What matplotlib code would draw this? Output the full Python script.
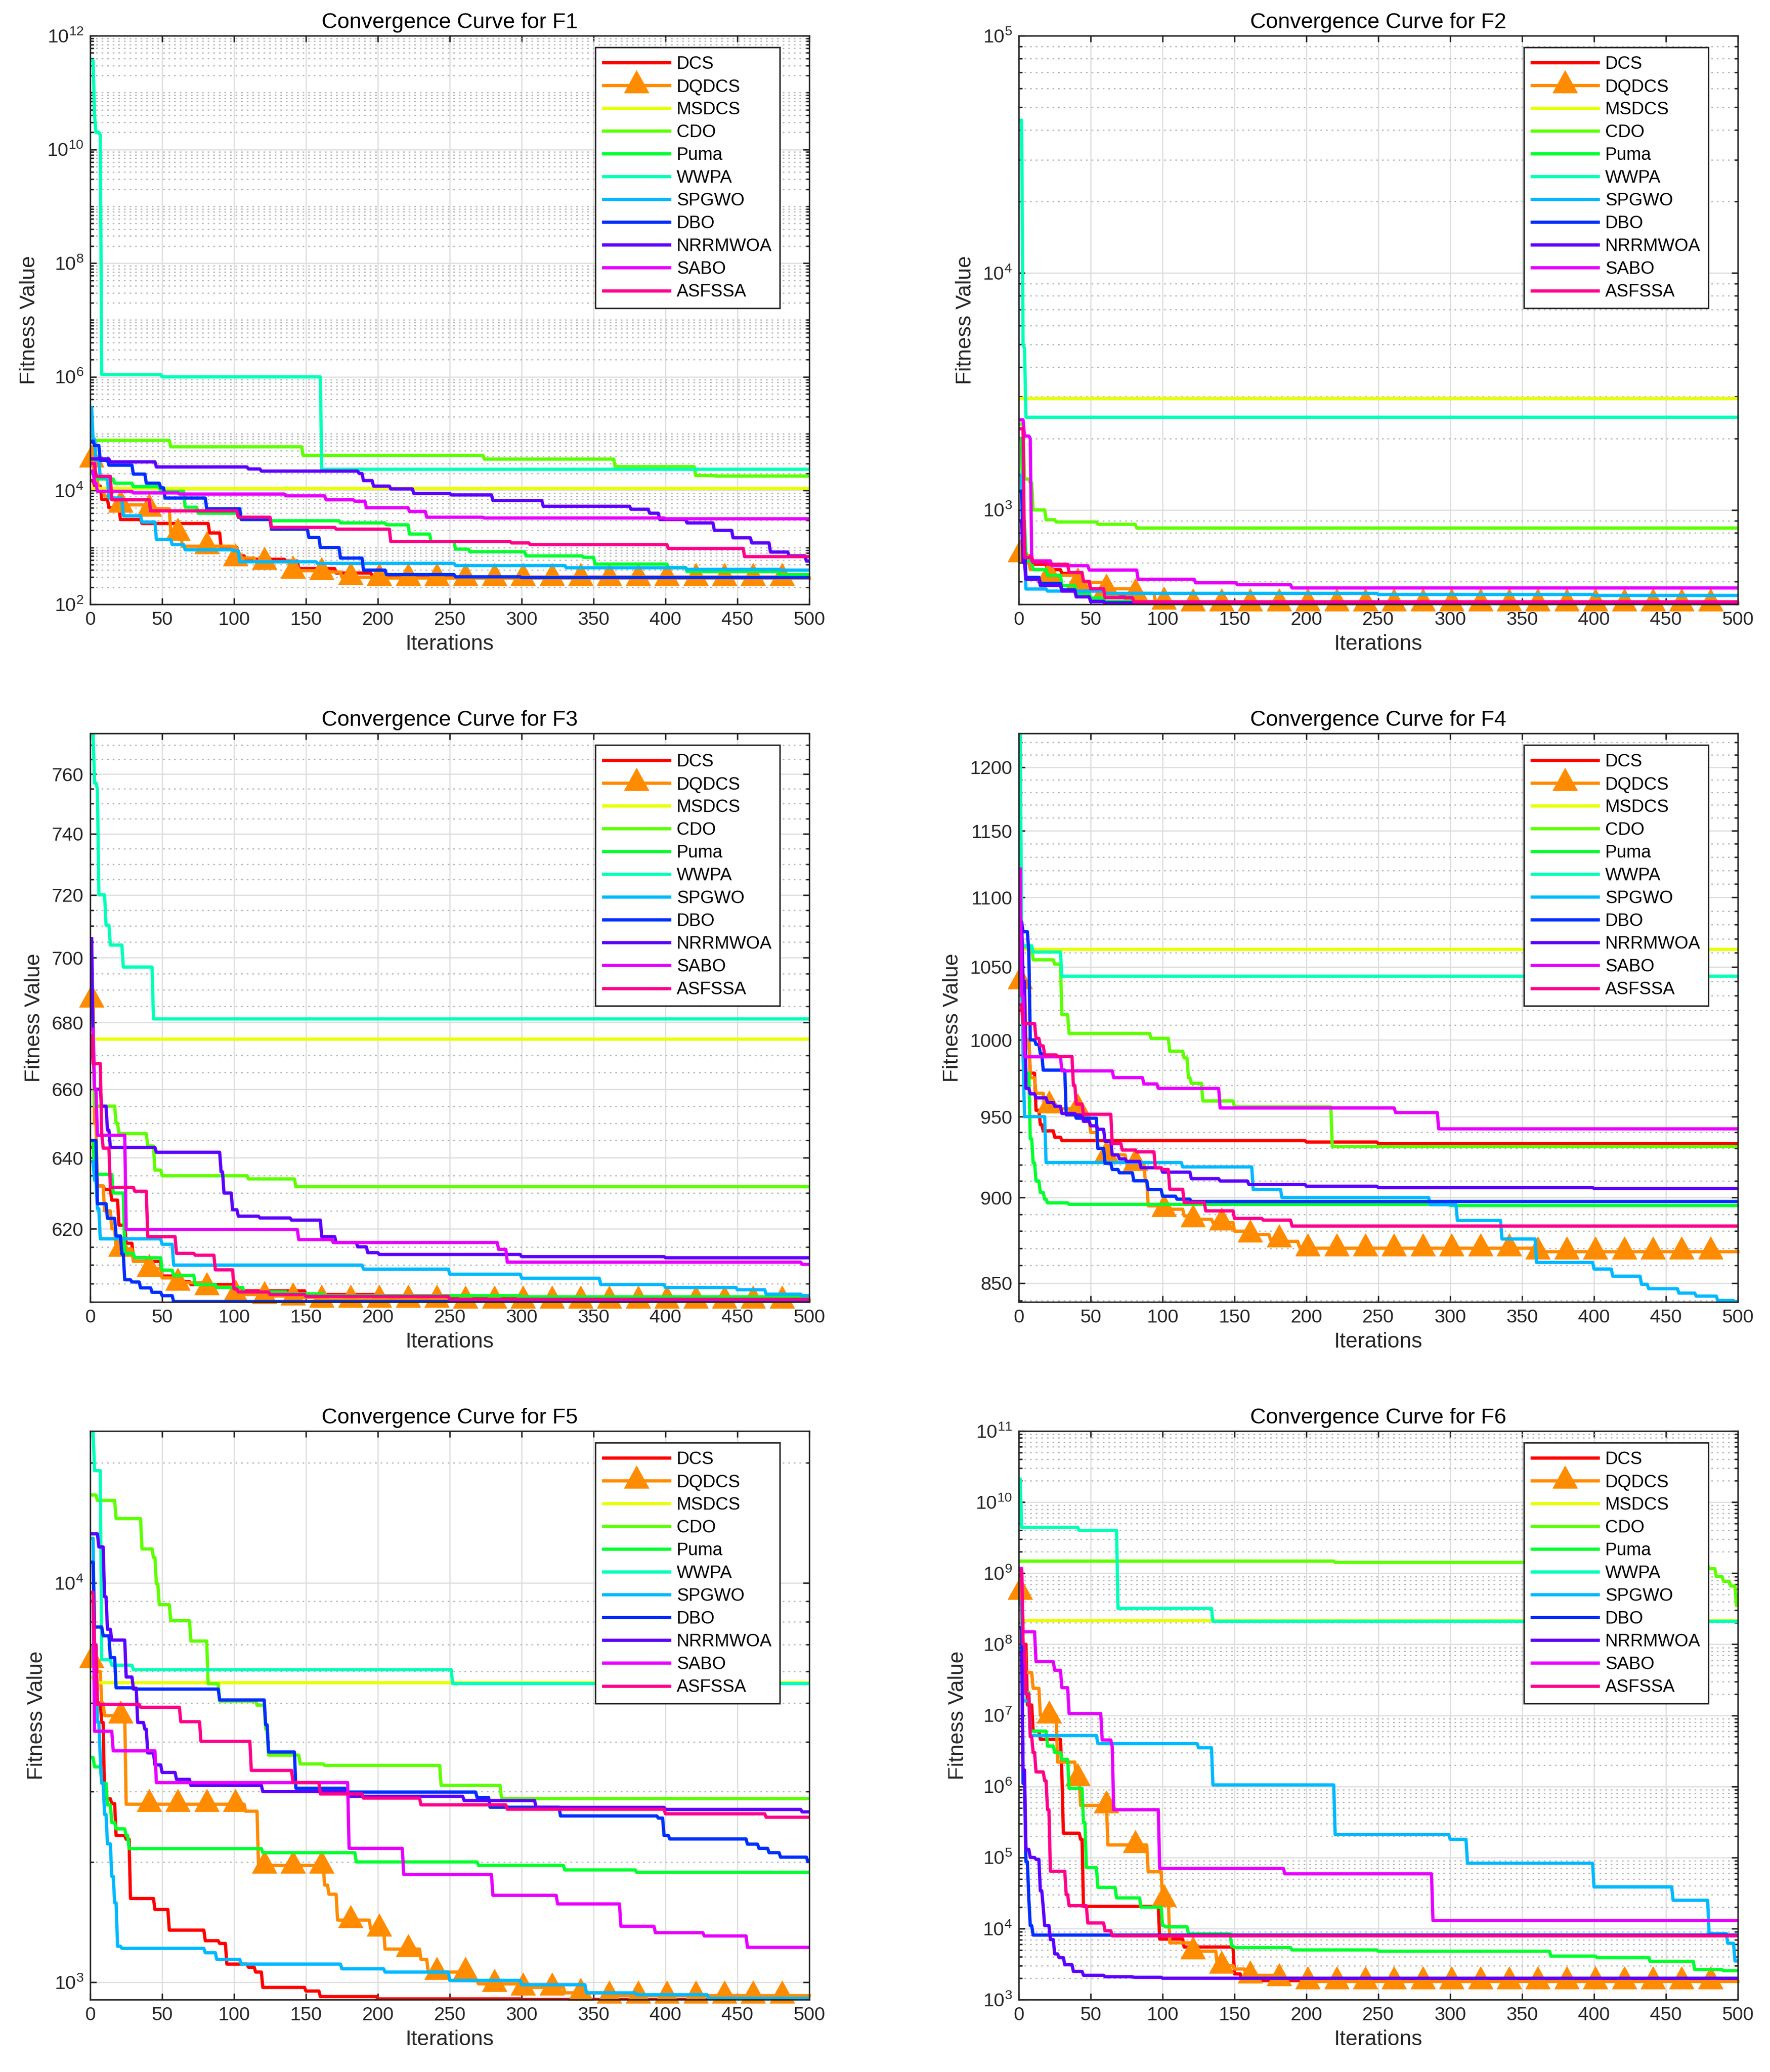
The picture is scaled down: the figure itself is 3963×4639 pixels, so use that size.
import numpy as np
import matplotlib
matplotlib.use("Agg")
import matplotlib.pyplot as plt
from matplotlib.ticker import FixedLocator, MultipleLocator, NullLocator, NullFormatter, FuncFormatter, LogLocator, LogFormatterSciNotation
from matplotlib.path import Path
import colorsys

plt.rcParams['font.family'] = ['Liberation Sans', 'DejaVu Sans']
plt.rcParams['mathtext.fontset'] = 'custom'
plt.rcParams['mathtext.rm'] = 'Liberation Sans'
plt.rcParams['mathtext.it'] = 'Liberation Sans'
plt.rcParams['mathtext.bf'] = 'Liberation Sans'

ALGORITHMS = ["DCS", "DQDCS", "MSDCS", "CDO", "Puma", "WWPA", "SPGWO", "DBO", "NRRMWOA", "SABO", "ASFSSA"]
ITERATIONS = np.arange(1, 501)
X_TICKS = list(range(0, 501, 50))

# ---------------- F1 (iteration, best fitness) breakpoints ----------------
F1_DCS = [(1, 1.5e4), (3, 1.2e4), (8, 7e3), (13, 5e3), (21, 3.1e3), (36, 2.64e3), (83, 1.8e3), (91, 1.0e3),
          (103, 710), (108, 620), (136, 575), (145, 425), (171, 355), (196, 323), (250, 300)]
F1_DQDCS = [(1, 3.5e4), (3, 1.5e4), (6, 1e4), (10, 8e3), (15, 7.4e3), (18, 5.6e3), (39, 4.8e3), (56, 1.8e3),
            (64, 1.05e3), (100, 650), (115, 560), (139, 390), (160, 370), (175, 300), (200, 290)]
F1_MSDCS = [(1, 1.1e4)]
F1_CDO = [(1, 7.65e4), (56, 5.89e4), (148, 4.17e4), (274, 3.58e4), (365, 2.64e4), (421, 1.84e4), (435, 1.8e4)]
F1_Puma = [(1, 2e4), (5, 1.6e4), (17, 1.35e4), (30, 1.17e4), (49, 9.7e3), (66, 5.1e3), (75, 4.0e3), (103, 3.35e3),
           (126, 2.95e3), (174, 2.7e3), (206, 2.5e3), (222, 1.72e3), (237, 1.27e3), (254, 935), (264, 840),
           (303, 710), (343, 670), (351, 510), (402, 440), (415, 376), (479, 333)]
F1_WWPA = [(1, 3.7e11), (3, 4e10), (4, 2e10), (7, 1.8e10), (8, 1.1e6), (50, 1.0e6), (161, 2.37e4)]
F1_SPGWO = [(1, 2.9e5), (2, 8e4), (4, 3.4e4), (7, 1.7e4), (13, 7.4e3), (23, 3.6e3), (36, 2.8e3), (46, 1.39e3),
            (57, 1.12e3), (66, 910), (100, 870), (104, 560), (158, 525), (254, 480), (331, 440), (415, 412), (480, 400)]
F1_DBO = [(1, 7.4e4), (3, 6.2e4), (7, 3.4e4), (13, 2.8e4), (30, 1.95e4), (39, 1.35e4), (49, 1.12e4), (52, 7.4e3),
          (81, 4.8e3), (105, 3.1e3), (126, 2.1e3), (152, 1.5e3), (160, 1.0e3), (174, 650), (190, 400), (206, 333),
          (254, 304), (300, 295)]
F1_NRRMWOA = [(1, 3.6e4), (14, 3.2e4), (46, 2.6e4), (110, 2.4e4), (119, 2.2e4), (187, 2.0e4), (190, 1.5e4),
              (197, 1.2e4), (209, 1.07e4), (225, 8.9e3), (251, 8.4e3), (280, 6.7e3), (315, 5.3e3), (376, 4.7e3),
              (389, 4.0e3), (396, 3.1e3), (415, 2.7e3), (434, 2.0e3), (447, 1.48e3), (460, 1.2e3), (473, 830),
              (486, 710), (498, 575)]
F1_SABO = [(1, 2.2e4), (3, 1.35e4), (5, 9.7e3), (30, 9.1e3), (62, 8.7e3), (136, 8.1e3), (164, 6.9e3), (184, 6.5e3),
           (192, 5.0e3), (222, 4.3e3), (234, 3.4e3), (274, 3.3e3), (400, 3.2e3)]
F1_ASFSSA = [(1, 3e4), (4, 1.78e4), (15, 6.9e3), (42, 4.4e3), (103, 3.4e3), (126, 2.25e3), (171, 2.1e3),
             (209, 1.27e3), (293, 1.2e3), (306, 1.12e3), (402, 960), (455, 690)]

# ---------------- F2 ----------------
F2_DCS = [(1, 2.0e3), (3, 800), (5, 640), (10, 590), (20, 560), (30, 540), (40, 500), (50, 455), (60, 430),
          (75, 410), (100, 405)]
F2_DQDCS = [(1, 650), (3, 600), (8, 560), (21, 530), (41, 495), (61, 465), (81, 445), (95, 410), (110, 404)]
F2_MSDCS = [(1, 2.95e3)]
F2_CDO = [(1, 2.3e3), (4, 1.35e3), (8, 1.3e3), (10, 1.0e3), (19, 910), (26, 890), (55, 870), (82, 839)]
F2_Puma = [(1, 2.0e3), (3, 900), (5, 610), (10, 560), (20, 530), (30, 480), (40, 445), (50, 425), (60, 412), (80, 408)]
F2_WWPA = [(1, 4.4e4), (3, 5.0e3), (4, 4.8e3), (5, 2.46e3)]
F2_SPGWO = [(1, 1.4e3), (3, 650), (5, 464), (20, 455), (60, 445), (250, 440), (400, 436)]
F2_DBO = [(1, 1.2e3), (3, 700), (5, 520), (15, 490), (30, 460), (40, 430), (50, 412), (60, 406)]
F2_NRRMWOA = [(1, 900), (3, 600), (5, 510), (15, 480), (30, 455), (40, 430), (50, 410), (60, 404)]
F2_SABO = [(1, 2.4e3), (4, 2.05e3), (8, 2.0e3), (9, 610), (23, 582), (49, 558), (83, 510), (123, 493), (152, 484),
           (190, 469)]
F2_ASFSSA = [(1, 2.2e3), (4, 630), (10, 600), (20, 590), (35, 545), (45, 500), (50, 465), (60, 427), (80, 410)]

# ---------------- F3 ----------------
F3_DCS = [(1, 643), (5, 632), (10, 631), (15, 628), (20, 621), (25, 616), (30, 612), (40, 611), (50, 607), (60, 605.5),
          (70, 604.7), (100, 603), (150, 602), (200, 601), (400, 600.2)]
F3_DQDCS = [(1, 687), (3, 650), (5, 632), (10, 625), (15, 620), (18, 614.4), (30, 611), (41, 609), (50, 606.5),
            (61, 605.2), (81, 604), (101, 602), (121, 601.6), (141, 601.2), (161, 600.6), (250, 600.4)]
F3_MSDCS = [(1, 675)]
F3_CDO = [(1, 680), (3, 655), (18, 650), (20, 647), (40, 643.4), (45, 636.5), (50, 634.9), (110, 634.0), (143, 631.8)]
F3_Puma = [(1, 645), (3, 635.3), (16, 630), (24, 613.2), (31, 612), (50, 608.6), (58, 607.2), (73, 604.7),
           (88, 603.9), (107, 602.7), (137, 602.2), (163, 601.7), (300, 601.4)]
F3_WWPA = [(1, 774), (3, 757), (5, 755), (6, 720), (11, 710.3), (14, 704), (23, 697.1), (44, 681.1)]
F3_SPGWO = [(1, 639), (3, 633.6), (5, 625.6), (7, 617.2), (50, 615.7), (58, 610.0), (190, 608.9), (250, 607.5),
            (300, 606.4), (355, 604.7), (400, 603.9), (450, 603.3), (470, 602.1), (495, 601.7)]
F3_DBO = [(1, 645), (5, 627), (12, 622.9), (18, 618), (22, 613), (24, 606), (29, 605.4), (35, 603.8), (43, 602.6),
          (50, 601.7), (58, 600.1)]
F3_NRRMWOA = [(1, 706), (2, 675), (3, 660), (8, 655), (12, 648), (14, 643.0), (46, 641.6), (91, 636), (93, 630),
              (99, 625.3), (103, 623.5), (118, 623.0), (140, 622.4), (161, 617.8), (171, 616.2), (186, 615.0),
              (193, 613.4), (201, 612.9), (300, 612.3), (400, 612.0)]
F3_SABO = [(1, 678), (3, 660), (5, 646.5), (25, 619.8), (145, 617.0), (169, 616.2), (284, 614.3), (290, 610.8),
           (495, 610.2)]
F3_ASFSSA = [(1, 676), (2, 667.6), (8, 647), (9, 642.8), (14, 631.6), (31, 630.5), (40, 617.8), (60, 613.2),
             (73, 612.7), (87, 608.7), (100, 603.5), (103, 602.7), (125, 602.0), (150, 601.5), (250, 600.7)]

# ---------------- F4 ----------------
F4_DCS = [(1, 1020), (4, 1000), (8, 978), (12, 954), (15, 945), (17, 941), (25, 937), (30, 934.9), (200, 934.0),
          (250, 933.0)]
F4_DQDCS = [(1, 1040), (5, 1000), (8, 975), (12, 965), (18, 957), (25, 955), (45, 948), (50, 940), (55, 930),
            (60, 926), (75, 921), (88, 910), (90, 895), (100, 893), (115, 889), (120, 887), (135, 885), (150, 880),
            (160, 878), (175, 875), (185, 874), (195, 871), (200, 870), (360, 868)]
F4_MSDCS = [(1, 1062.7)]
F4_CDO = [(1, 1070), (3, 1064), (10, 1055), (25, 1052), (30, 1017), (35, 1004.3), (92, 1001), (105, 992.5),
          (115, 988), (118, 975), (120, 971.4), (128, 960), (150, 956.2), (218, 931.2)]
F4_Puma = [(1, 1030), (3, 1011), (5, 978), (8, 936), (10, 921), (12, 910), (15, 903), (18, 899), (20, 896.8),
           (35, 895.9), (300, 895.2)]
F4_WWPA = [(1, 1227), (2, 1073), (3, 1065), (10, 1060.5), (30, 1043.5)]
F4_SPGWO = [(1, 1060), (3, 990), (4, 950), (19, 921.3), (114, 918.6), (163, 904.8), (183, 900.0), (286, 895.7),
            (305, 886.3), (336, 875.4), (360, 861.8), (400, 858), (413, 853.9), (433, 849.3), (438, 846.8),
            (459, 844.3), (471, 842.6), (486, 840.1), (498, 839.3)]
F4_DBO = [(1, 1082), (3, 1075), (7, 1060), (8, 1000), (12, 997), (15, 990.8), (17, 980), (33, 951.2), (40, 949),
          (55, 930), (60, 920.8), (65, 917), (70, 915), (80, 910.1), (90, 904.8), (100, 900.8), (110, 899),
          (120, 897.6)]
F4_NRRMWOA = [(1, 1082), (3, 1040), (5, 968.1), (8, 964.6), (12, 962), (20, 959), (25, 956.6), (30, 952), (40, 951),
              (45, 947), (50, 944.2), (55, 942), (60, 934.4), (65, 926), (70, 923.5), (75, 922), (85, 918.1),
              (100, 915.4), (120, 911.4), (140, 910), (160, 907.9), (200, 906.8), (250, 906), (400, 905.5)]
F4_SABO = [(1, 1121), (2, 1030), (4, 988.8), (30, 979.5), (66, 975.1), (87, 971.0), (97, 968.1), (140, 955.5),
           (262, 952.6), (292, 942.3)]
F4_ASFSSA = [(1, 1023.7), (3, 1011), (12, 1001), (15, 996), (18, 990), (27, 989), (38, 970), (40, 958), (45, 951.5),
             (65, 933), (72, 929), (82, 927.9), (95, 918), (100, 917), (105, 905), (115, 897), (130, 892),
             (150, 887.5), (170, 886.5), (190, 883.0)]

# ---------------- F5 ----------------
F5_DCS = [(1, 9000), (3, 6500), (5, 5000), (8, 4470), (10, 2880), (15, 2800), (18, 2330), (25, 2280), (28, 1620),
          (45, 1520), (55, 1350), (80, 1270), (90, 1250), (95, 1110), (110, 1090), (115, 1060), (120, 970),
          (150, 950), (160, 920), (200, 908), (300, 905)]
F5_DQDCS = [(1, 6400), (5, 6000), (8, 5000), (10, 4650), (25, 2790), (108, 2680), (117, 1960), (163, 1750),
            (166, 1660), (172, 1430), (195, 1360), (205, 1210), (230, 1140), (235, 1060), (265, 1010), (270, 990),
            (300, 970), (330, 940), (360, 925)]
F5_MSDCS = [(1, 5800), (3, 5623)]
F5_CDO = [(1, 16600), (5, 16090), (18, 14490), (36, 12160), (44, 11570), (46, 9950), (48, 8820), (56, 8040),
          (70, 7150), (82, 5590), (90, 5060), (116, 4940), (122, 4300), (124, 3703), (146, 3520), (163, 3490),
          (244, 3110), (286, 2883)]
F5_Puma = [(1, 3650), (3, 3460), (8, 3150), (12, 2780), (15, 2510), (18, 2420), (25, 2330), (27, 2160), (120, 2110),
           (185, 2000), (270, 1960), (330, 1910), (380, 1884)]
F5_WWPA = [(1, 24000), (3, 19100), (8, 6420), (15, 6220), (30, 6062), (252, 5594)]
F5_SPGWO = [(1, 12930), (3, 7000), (5, 4480), (7, 3650), (8, 3150), (10, 2630), (12, 2220), (15, 1840), (17, 1580),
            (19, 1230), (22, 1215), (80, 1185), (88, 1140), (105, 1110), (175, 1080), (205, 1060), (250, 1010),
            (300, 985), (345, 940), (380, 930), (430, 911)]
F5_DBO = [(1, 11270), (3, 7750), (9, 7370), (14, 6500), (18, 5460), (30, 5420), (90, 5090), (122, 4410),
          (124, 3770), (143, 3060), (178, 2993), (269, 2900), (278, 2742), (327, 2608), (395, 2576), (399, 2330),
          (403, 2284), (457, 2216), (465, 2163), (472, 2110), (480, 2056), (499, 2005)]
F5_NRRMWOA = [(1, 13270), (6, 12300), (10, 9230), (12, 7650), (15, 7190), (25, 5810), (30, 5450), (33, 4470),
              (38, 4300), (40, 3750), (45, 3500), (50, 3350), (60, 3220), (70, 3110), (120, 3000), (180, 2920),
              (260, 2850), (310, 2740), (400, 2707), (495, 2670)]
F5_SABO = [(1, 9460), (3, 4250), (16, 3796), (46, 3160), (180, 2163), (218, 1860), (280, 1650), (325, 1570),
           (369, 1380), (393, 1330), (427, 1305), (457, 1222)]
F5_ASFSSA = [(1, 9460), (3, 7000), (5, 4962), (35, 4880), (63, 4490), (77, 4010), (112, 3390), (141, 3160),
             (160, 2960), (190, 2890), (230, 2780), (290, 2710), (400, 2640), (470, 2588)]

# ---------------- F6 ----------------
F6_DCS = [(1, 9.5e8), (3, 1e8), (6, 1.4e7), (10, 6e6), (15, 4.6e6), (30, 1.5e6), (31, 2.2e5), (43, 1.8e5),
          (45, 2.05e4), (98, 7.1e3), (115, 5.5e3), (150, 2.3e3), (155, 1.85e3)]
F6_DQDCS = [(1, 5.5e8), (3, 1e8), (5, 4e7), (10, 2.4e7), (15, 1e7), (27, 2.2e6), (40, 1.3e6), (43, 5.4e5),
            (62, 1.5e5), (90, 6.3e4), (100, 2.6e4), (105, 6.3e3), (120, 4.8e3), (138, 3.0e3), (150, 2.7e3),
            (158, 2.2e3), (180, 2.0e3), (200, 1.8e3)]
F6_MSDCS = [(1, 2.16e8)]
F6_CDO = [(1, 1.48e9), (220, 1.42e9), (450, 1.4e9), (475, 1.3e9), (480, 1.16e9), (485, 9e8), (490, 7.7e8),
          (495, 6.6e8), (499, 3.5e8)]
F6_Puma = [(1, 3.6e8), (3, 2.1e7), (8, 6e6), (20, 3.7e6), (25, 3e6), (30, 2.4e6), (35, 9.4e5), (45, 3.1e5),
           (47, 7.2e4), (55, 3.8e4), (68, 2.7e4), (85, 2e4), (100, 1.1e4), (102, 1.06e4), (118, 8.4e3), (148, 5.7e3),
           (150, 5.4e3), (190, 5e3), (250, 4.8e3), (370, 4.1e3), (402, 3.9e3), (439, 3.45e3), (470, 2.65e3),
           (490, 2.55e3)]
F6_WWPA = [(1, 2.1e10), (2, 4.4e9), (42, 4.0e9), (69, 3.2e8), (135, 2.1e8)]
F6_SPGWO = [(1, 4e8), (3, 1.6e7), (8, 5.2e6), (55, 4.0e6), (125, 3.5e6), (135, 1.05e6), (220, 2.1e5), (300, 1.8e5),
            (312, 8.3e4), (400, 3.85e4), (455, 2.5e4), (480, 8.5e3), (493, 6.2e3), (498, 3.5e3)]
F6_DBO = [(1, 1.7e8), (3, 1.1e6), (5, 8.7e4), (7, 2.6e4), (8, 1.1e4), (10, 8.1e3)]
F6_NRRMWOA = [(1, 7.7e7), (3, 1.7e6), (5, 1.3e5), (8, 1e5), (12, 9.4e4), (15, 3.4e4), (17, 2e4), (18, 1.1e4),
              (22, 7e3), (25, 4.4e3), (28, 3.9e3), (32, 3.1e3), (38, 2.5e3), (45, 2.2e3), (60, 2.1e3), (80, 2.06e3),
              (100, 2.0e3)]
F6_SABO = [(1, 1.17e9), (3, 1.5e8), (12, 5.7e7), (25, 4.3e7), (30, 2.45e7), (35, 1.06e7), (58, 4.5e6), (65, 3.6e6),
           (66, 4.7e5), (98, 7.0e4), (185, 5.9e4), (288, 1.3e4)]
F6_ASFSSA = [(1, 1.1e9), (3, 1e8), (5, 2e7), (8, 5e6), (10, 3e6), (12, 1.6e6), (18, 1.2e6), (20, 4.7e5), (22, 6.4e4),
             (33, 3e4), (35, 2.1e4), (48, 1.2e4), (60, 9.3e3), (65, 7.9e3)]

F1_YLIM = (1e2, 1e12)
F2_YLIM = (400, 1e5)
F3_YLIM = (600, 774)
F4_YLIM = (839.3, 1227.4)
F5_YLIM = (904, 24000)
F6_YLIM = (1e3, 1e11)
F1_YTICKS = [1e2, 1e4, 1e6, 1e8, 1e10, 1e12]
F3_YTICKS = [620, 640, 660, 680, 700, 720, 740, 760]
F4_YTICKS = [850, 900, 950, 1000, 1050, 1100, 1150, 1200]

PANELS = [
    ("F1", [F1_DCS, F1_DQDCS, F1_MSDCS, F1_CDO, F1_Puma, F1_WWPA, F1_SPGWO, F1_DBO, F1_NRRMWOA, F1_SABO, F1_ASFSSA], F1_YLIM, F1_YTICKS, None),
    ("F2", [F2_DCS, F2_DQDCS, F2_MSDCS, F2_CDO, F2_Puma, F2_WWPA, F2_SPGWO, F2_DBO, F2_NRRMWOA, F2_SABO, F2_ASFSSA], F2_YLIM, None, None),
    ("F3", [F3_DCS, F3_DQDCS, F3_MSDCS, F3_CDO, F3_Puma, F3_WWPA, F3_SPGWO, F3_DBO, F3_NRRMWOA, F3_SABO, F3_ASFSSA], F3_YLIM, F3_YTICKS, 5),
    ("F4", [F4_DCS, F4_DQDCS, F4_MSDCS, F4_CDO, F4_Puma, F4_WWPA, F4_SPGWO, F4_DBO, F4_NRRMWOA, F4_SABO, F4_ASFSSA], F4_YLIM, F4_YTICKS, 10),
    ("F5", [F5_DCS, F5_DQDCS, F5_MSDCS, F5_CDO, F5_Puma, F5_WWPA, F5_SPGWO, F5_DBO, F5_NRRMWOA, F5_SABO, F5_ASFSSA], F5_YLIM, None, None),
    ("F6", [F6_DCS, F6_DQDCS, F6_MSDCS, F6_CDO, F6_Puma, F6_WWPA, F6_SPGWO, F6_DBO, F6_NRRMWOA, F6_SABO, F6_ASFSSA], F6_YLIM, None, None),
]


def curve(breakpoints):
    bx = np.array([p[0] for p in breakpoints])
    by = np.array([p[1] for p in breakpoints], dtype=float)
    idx = np.searchsorted(bx, ITERATIONS, side='right') - 1
    return by[idx]


COLORS = [colorsys.hsv_to_rgb(i / 11.0, 1.0, 1.0) for i in range(11)]
TRI = Path([(0, 1), (-0.825, -0.5), (0.825, -0.5), (0, 1)],
           [Path.MOVETO, Path.LINETO, Path.LINETO, Path.CLOSEPOLY])

DARK = '#262626'
W, H = 3963, 4639
fig = plt.figure(figsize=(W / 300, H / 300), dpi=300)
lefts = [202 / W, 2281 / W]
bottoms = [1 - 1353 / H, 1 - 2915 / H, 1 - 4477 / H]
aw, ah = 1610 / W, 1273 / H
LW = 1.75

for k, (name, series, ylim, yticks, yminor) in enumerate(PANELS):
    ax = fig.add_axes([lefts[k % 2], bottoms[k // 2], aw, ah])
    ax.set_yscale('log')
    for j, (alg, bp) in enumerate(zip(ALGORITHMS, series)):
        vals = curve(bp)
        if alg == "DQDCS":
            ax.plot(ITERATIONS, vals, color=COLORS[j], lw=LW, marker=TRI, markersize=16,
                    markevery=20, markerfacecolor=COLORS[j], markeredgecolor=COLORS[j],
                    markeredgewidth=0.3, label=alg, clip_on=False)
        else:
            ax.plot(ITERATIONS, vals, color=COLORS[j], lw=LW, label=alg)
    ax.set_xlim(0, 500)
    ax.set_ylim(*ylim)
    ax.xaxis.set_major_locator(FixedLocator(X_TICKS))
    ax.xaxis.set_minor_locator(NullLocator())
    if yminor is not None:
        ax.yaxis.set_major_locator(FixedLocator(yticks))
        ax.yaxis.set_major_formatter(FuncFormatter(lambda v, p: f"{v:g}"))
        ax.yaxis.set_minor_locator(MultipleLocator(yminor))
        ax.yaxis.set_minor_formatter(NullFormatter())
    else:
        if yticks is not None:
            ax.yaxis.set_major_locator(FixedLocator(yticks))
            ax.yaxis.set_minor_locator(LogLocator(base=10, subs=np.arange(1, 10), numticks=40))
        else:
            ax.yaxis.set_major_locator(LogLocator(base=10, numticks=30))
            ax.yaxis.set_minor_locator(LogLocator(base=10, subs=np.arange(2, 10), numticks=30))
        ax.yaxis.set_major_formatter(LogFormatterSciNotation())
        ax.yaxis.set_minor_formatter(NullFormatter())
    ax.set_axisbelow(True)
    ax.grid(True, which='major', axis='both', color='#dcdcdc', lw=0.6, ls='-')
    ax.grid(True, which='minor', axis='y', color='#b0b0b0', lw=0.6, ls=(0, (1.5, 3.5)))
    for s in ax.spines.values():
        s.set_color(DARK)
        s.set_linewidth(0.8)
    ax.tick_params(which='both', direction='in', top=True, right=True, color=DARK, width=0.8,
                   labelsize=10.3, labelcolor=DARK)
    ax.tick_params(which='major', length=3.4, pad=3.5)
    ax.tick_params(which='minor', length=1.8)
    ax.set_title(f"Convergence Curve for {name}", fontsize=11.7, pad=4, color='black')
    ax.set_xlabel("Iterations", fontsize=11.6, color=DARK, labelpad=3)
    ax.set_ylabel("Fitness Value", fontsize=11.6, color=DARK, labelpad=4)
    leg = ax.legend(loc='upper right', bbox_to_anchor=(0.959, 0.9796), borderaxespad=0,
                    fontsize=9.5, handlelength=3.75, handletextpad=0.4, borderpad=0.45,
                    labelspacing=0.33, numpoints=1, fancybox=False, framealpha=1, edgecolor=DARK)
    leg.get_frame().set_linewidth(0.8)

fig.savefig("out.png", dpi=300)
